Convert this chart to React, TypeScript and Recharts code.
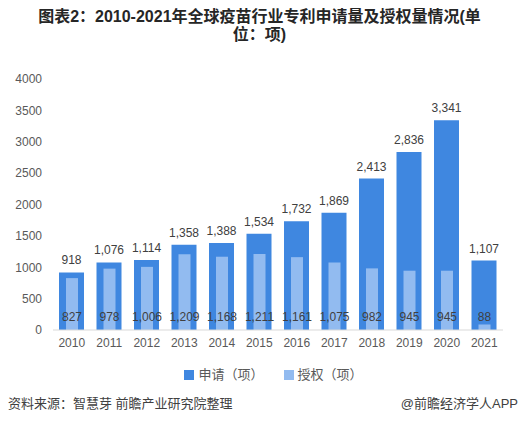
import React from 'react'
import { BarChart, Bar, XAxis, YAxis, LabelList } from 'recharts'

const years = ['2010', '2011', '2012', '2013', '2014', '2015', '2016', '2017', '2018', '2019', '2020', '2021']
const applied = [918, 1076, 1114, 1358, 1388, 1534, 1732, 1869, 2413, 2836, 3341, 1107]
const granted = [827, 978, 1006, 1209, 1168, 1211, 1161, 1075, 982, 945, 945, 88]
const yTicks = [0, 500, 1000, 1500, 2000, 2500, 3000, 3500, 4000]

const DARK = '#3f87e0'
const LIGHT = '#92bbf0'
const FONT = '"Liberation Sans", Arial, "Noto Sans CJK SC", sans-serif'

const data = years.map((year, i) => ({ year, applied: applied[i], granted: granted[i] }))

const fmt = (v: number): string => v.toLocaleString('en-US')

const swatch = (color: string): React.CSSProperties => ({
  display: 'inline-block',
  width: 10,
  height: 10,
  background: color,
  marginRight: 4,
  verticalAlign: -1,
})

export default function App() {
  return (
    <div style={{ position: 'absolute', left: 0, top: 0, width: 519, height: 424, background: '#fff', fontFamily: FONT, overflow: 'hidden' }}>
      <div style={{ position: 'absolute', top: 8, left: 0, width: 519, textAlign: 'center', fontSize: 16, fontWeight: 700, lineHeight: '18px', color: '#262626' }}>
        图表2：2010-2021年全球疫苗行业专利申请量及授权量情况(单
        <br />
        位：项)
      </div>

      <div style={{ position: 'absolute', left: 0, top: 0 }}>
        <BarChart width={519} height={350} data={data} margin={{ top: 79, right: 16, bottom: 0, left: 0 }}>
          <XAxis
            xAxisId="a"
            dataKey="year"
            height={20}
            tickLine={false}
            axisLine={{ stroke: '#d9d9d9' }}
            tick={{ fill: '#595959', fontSize: 12, fontFamily: FONT }}
            interval={0}
          />
          <XAxis xAxisId="b" dataKey="year" hide />
          <YAxis
            width={53}
            domain={[0, 4000]}
            ticks={yTicks}
            tickLine={false}
            axisLine={false}
            tickMargin={5}
            tick={{ fill: '#595959', fontSize: 12, fontFamily: FONT }}
          />
          <Bar xAxisId="a" dataKey="applied" fill={DARK} barSize={25} isAnimationActive={false}>
            <LabelList dataKey="applied" position="top" offset={8} formatter={fmt} fill="#404040" fontSize={12} fontFamily={FONT} />
          </Bar>
          <Bar xAxisId="b" dataKey="granted" fill={LIGHT} barSize={12} isAnimationActive={false}>
            <LabelList
              dataKey="granted"
              content={(p: any) => (
                <text x={p.x + p.width / 2} y={317} textAnchor="middle" dominantBaseline="central" fill="#404040" fontSize={12} fontFamily={FONT}>
                  {fmt(p.value)}
                </text>
              )}
            />
          </Bar>
        </BarChart>
      </div>

      <div style={{ position: 'absolute', top: 364, left: 14, width: 519, textAlign: 'center', fontSize: 13, color: '#595959' }}>
        <span style={{ marginRight: 20 }}>
          <span style={swatch(DARK)} />
          申请（项）
        </span>
        <span>
          <span style={swatch(LIGHT)} />
          授权（项）
        </span>
      </div>

      <div style={{ position: 'absolute', top: 393, left: 8, fontSize: 13, color: '#404040' }}>
        资料来源：智慧芽 前瞻产业研究院整理
      </div>
      <div style={{ position: 'absolute', top: 393, right: 1, fontSize: 13, color: '#404040' }}>
        @前瞻经济学人APP
      </div>
    </div>
  )
}
